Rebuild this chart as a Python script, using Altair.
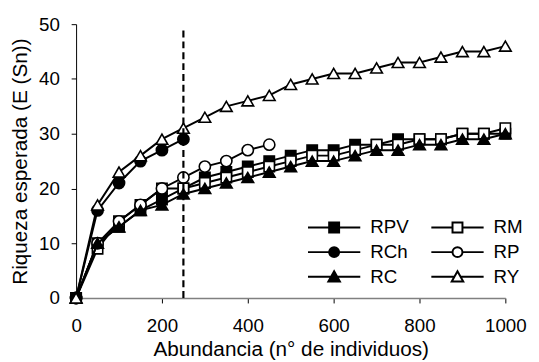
import altair as alt
import pandas as pd

# ---------------- data ----------------
abund = [0, 50, 100, 150, 200, 250, 300, 350, 400, 450, 500,
         550, 600, 650, 700, 750, 800, 850, 900, 950, 1000]

rpv = [0, 10, 13, 16, 18, 20, 22, 23, 24, 25, 26, 27, 27, 28, 28, 29, 29, 29, 30, 30, 30]
rm = [0, 9, 14, 17, 20, 20, 21, 22, 23, 24, 25, 26, 26, 27, 28, 28, 29, 29, 30, 30, 31]
rc = [0, 10, 13, 16, 17, 19, 20, 21, 22, 23, 24, 25, 25, 26, 27, 27, 28, 28, 29, 29, 30]
rch = [0, 16, 21, 25, 27, 29]
rp = [0, 10, 14, 17, 20, 22, 24, 25, 27, 28]
ry = [0, 17, 23, 26, 29, 31, 33, 35, 36, 37, 39, 40, 41, 41, 42, 43, 43, 44, 45, 45, 46]

series_values = {"RPV": rpv, "RM": rm, "RCh": rch, "RP": rp, "RC": rc, "RY": ry}
legend_order = ["RPV", "RCh", "RC", "RM", "RP", "RY"]
draw_order = ["RPV", "RM", "RP", "RC", "RCh", "RY"]

cut_x = [250]
cut_top = [49]

x_ticks = [0, 200, 400, 600, 800, 1000]
y_ticks = [0, 10, 20, 30, 40, 50]

rows = []
for name in legend_order:
    for xv, yv in zip(abund, series_values[name]):
        rows.append({"serie": name, "n": xv, "s": yv})
df = pd.DataFrame(rows)
df_cut = pd.DataFrame({"n": cut_x, "top": cut_top, "bottom": [0] * len(cut_x)})

# ---------------- styles ----------------
FONT = "Liberation Sans"
marker_style = {
    "RPV": dict(shape="square", fill="black", size=110),
    "RM": dict(shape="square", fill="white", size=110),
    "RCh": dict(shape="circle", fill="black", size=130),
    "RP": dict(shape="circle", fill="white", size=130),
    "RC": dict(shape="triangle-up", fill="black", size=140),
    "RY": dict(shape="triangle-up", fill="white", size=140),
}
sq = "M-1,0H-0.19M0.19,0H1M-0.19,-0.19H0.19V0.19H-0.19Z"
ci = "M-1,0H-0.19M0.19,0H1M0.19,0A0.19,0.19,0,1,1,-0.19,0A0.19,0.19,0,1,1,0.19,0Z"
tr = "M-1,0H-0.11M0.11,0H1M0,-0.21L0.22,0.18L-0.22,0.18Z"
legend_paths = {"RPV": sq, "RM": sq, "RCh": ci, "RP": ci, "RC": tr, "RY": tr}
legend_fills = {k: marker_style[k]["fill"] for k in legend_order}

x_axis = alt.Axis(values=x_ticks, format="d", title="Abundancia (n° de individuos)", grid=False,
                  labelFlush=False, tickSize=5, labelPadding=14, labelFontSize=19,
                  titleFontSize=21, titleFontWeight="normal", titleBaseline="alphabetic",
                  titleY=58, domainColor="#808080", domainWidth=1.5,
                  tickColor="black", labelOverlap=False)
y_axis = alt.Axis(values=y_ticks, title="Riqueza esperada (E (Sn))", grid=False,
                  tickSize=5, labelPadding=12, labelFontSize=19, titleFontSize=21,
                  titleFontWeight="normal", titleX=-56, titleBaseline="middle",
                  domainColor="black", tickColor="black", labelOverlap=False)

x_enc = alt.X("n:Q", scale=alt.Scale(domain=[0, 1000], nice=False), axis=x_axis)
y_enc = alt.Y("s:Q", scale=alt.Scale(domain=[0, 50], nice=False), axis=y_axis)

base = alt.Chart(df)
layers = []
for name in draw_order:
    st = marker_style[name]
    sub = base.transform_filter(alt.datum.serie == name)
    layers.append(sub.mark_line(color="black", strokeWidth=2).encode(x=x_enc, y=y_enc))
    layers.append(sub.mark_point(shape=st["shape"], filled=True, fill=st["fill"],
                                 stroke="black", strokeWidth=1.6, size=st["size"],
                                 opacity=1).encode(x=x_enc, y=y_enc))

rule = alt.Chart(df_cut).mark_rule(color="black", strokeWidth=2.2, strokeDash=[7, 4]).encode(
    x=alt.X("n:Q"), y=alt.Y("bottom:Q"), y2="top:Q")

leg = alt.Legend(orient="none", legendX=234, legendY=196, columns=2, symbolSize=2809,
                 clipHeight=20, rowPadding=5, columnPadding=21, labelOffset=9,
                 labelFontSize=19, labelFont=FONT, labelColor="black", title=None,
                 padding=0, symbolStrokeWidth=2, symbolStrokeColor="black", labelLimit=0)
legend_layer = alt.Chart(df).transform_filter("false").mark_point(
    filled=True, strokeWidth=2, opacity=1).encode(
    x=x_enc, y=y_enc,
    shape=alt.Shape("serie:N", scale=alt.Scale(domain=legend_order,
                    range=[legend_paths[k] for k in legend_order]), legend=leg),
    fill=alt.Fill("serie:N", scale=alt.Scale(domain=legend_order,
                  range=[legend_fills[k] for k in legend_order]), legend=leg),
    stroke=alt.Stroke("serie:N", scale=alt.Scale(domain=legend_order,
                      range=["black"] * len(legend_order)), legend=leg),
)

chart = alt.layer(*layers, rule, legend_layer).properties(
    width=435, height=277.5,
    autosize=alt.AutoSizeParams(type="none"),
    padding={"left": 69, "top": 14, "right": 26, "bottom": 66},
).configure_view(stroke=None).configure_axis(
    labelFont=FONT, titleFont=FONT, labelColor="black", titleColor="black"
)

chart.save("out.html", embed_options={"renderer": "svg", "actions": False})
